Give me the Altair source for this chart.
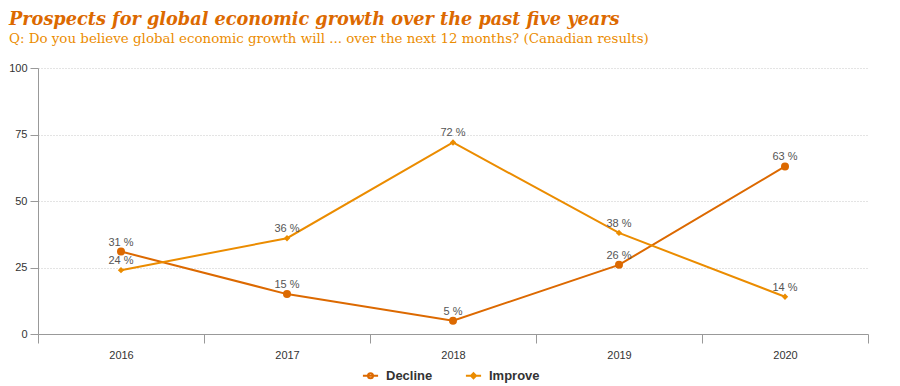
import altair as alt
import pandas as pd

years = ["2016", "2017", "2018", "2019", "2020"]
decline = [31, 15, 5, 26, 63]
improve = [24, 36, 72, 38, 14]
series_names = ["Decline", "Improve"]
series_colors = ["#dc6900", "#eb8c00"]

rows = []
for y, d, i in zip(years, decline, improve):
    rows.append({"year": y, "value": d, "series": "Decline"})
    rows.append({"year": y, "value": i, "series": "Improve"})
df = pd.DataFrame(rows)

# legend symbol shapes: line segment with marker
circle_path = "M-2.4,0H2.4M-0.8,0A0.8,0.8 0 1,0 0.8,0A0.8,0.8 0 1,0 -0.8,0Z"
diamond_path = "M-2.4,0H2.4M0,-0.8L0.8,0L0,0.8L-0.8,0Z"

x_enc = alt.X("year:N", sort=years, title=None,
              axis=alt.Axis(labelAngle=0, tickBand="extent", tickSize=9,
                            domainColor="#999", tickColor="#999",
                            labelColor="#333", labelFont="Arial", labelFontSize=11,
                            labelPadding=6, grid=False),
              scale=alt.Scale(paddingInner=0, paddingOuter=0))
y_enc = alt.Y("value:Q", title=None,
              scale=alt.Scale(domain=[0, 100], nice=False),
              axis=alt.Axis(values=[0, 25, 50, 75, 100], tickSize=8,
                            domainColor="#999", tickColor="#999",
                            labelColor="#333", labelFont="Arial", labelFontSize=11,
                            labelPadding=3, grid=True, gridColor="#c8c8c8",
                            gridDash=[1, 2], gridWidth=1))

base = alt.Chart(df)

layers = []
shapes = ["circle", "diamond"]
sizes = [64, 40]
for name, col, shp, sz in zip(series_names, series_colors, shapes, sizes):
    sub = base.transform_filter(alt.datum.series == name)
    layers.append(sub.mark_line(strokeWidth=2, color=col).encode(x=x_enc, y=y_enc))
    layers.append(sub.mark_point(filled=True, opacity=1, color=col, shape=shp, size=sz)
                  .encode(x=x_enc, y=y_enc))
    layers.append(sub.mark_text(dy=-9, font="Arial", fontSize=11, color="#555")
                  .encode(x=x_enc, y=y_enc, text=alt.Text("label:N"))
                  .transform_calculate(label="datum.value + ' %'"))

legend_layer = base.mark_point(filled=True, opacity=0, size=1).encode(
    x=x_enc, y=y_enc,
    color=alt.Color("series:N", title=None,
                    scale=alt.Scale(domain=series_names, range=series_colors),
                    legend=alt.Legend(orient="none", direction="horizontal",
                                      legendX=326, legendY=301,
                                      symbolOpacity=1, symbolSize=40, symbolStrokeWidth=2,
                                      labelFont="Arial", labelFontSize=13,
                                      labelFontWeight="bold", labelColor="#333",
                                      columnPadding=28, labelOffset=9)),
    stroke=alt.Stroke("series:N", title=None,
                      scale=alt.Scale(domain=series_names, range=series_colors)),
    shape=alt.Shape("series:N", title=None,
                    scale=alt.Scale(domain=series_names, range=[circle_path, diamond_path])),
)

chart = alt.layer(*layers, legend_layer).properties(
    width=830, height=266,
    padding={"left": 0, "top": 2, "right": 10, "bottom": 0},
    title=alt.TitleParams(
        "Prospects for global economic growth over the past five years",
        subtitle="Q: Do you believe global economic growth will ... over the next 12 months? (Canadian results)",
        anchor="start", frame="group",
        font="DejaVu Serif", fontSize=17.7, fontStyle="italic", fontWeight="bold",
        color="#dc6900",
        subtitleFont="DejaVu Serif", subtitleFontSize=13.4, subtitleColor="#eb8c00",
        subtitlePadding=3, offset=17, dx=-29,
    ),
).configure_view(stroke=None)

chart.save("out.html", embed_options={"renderer": "svg", "actions": False})
